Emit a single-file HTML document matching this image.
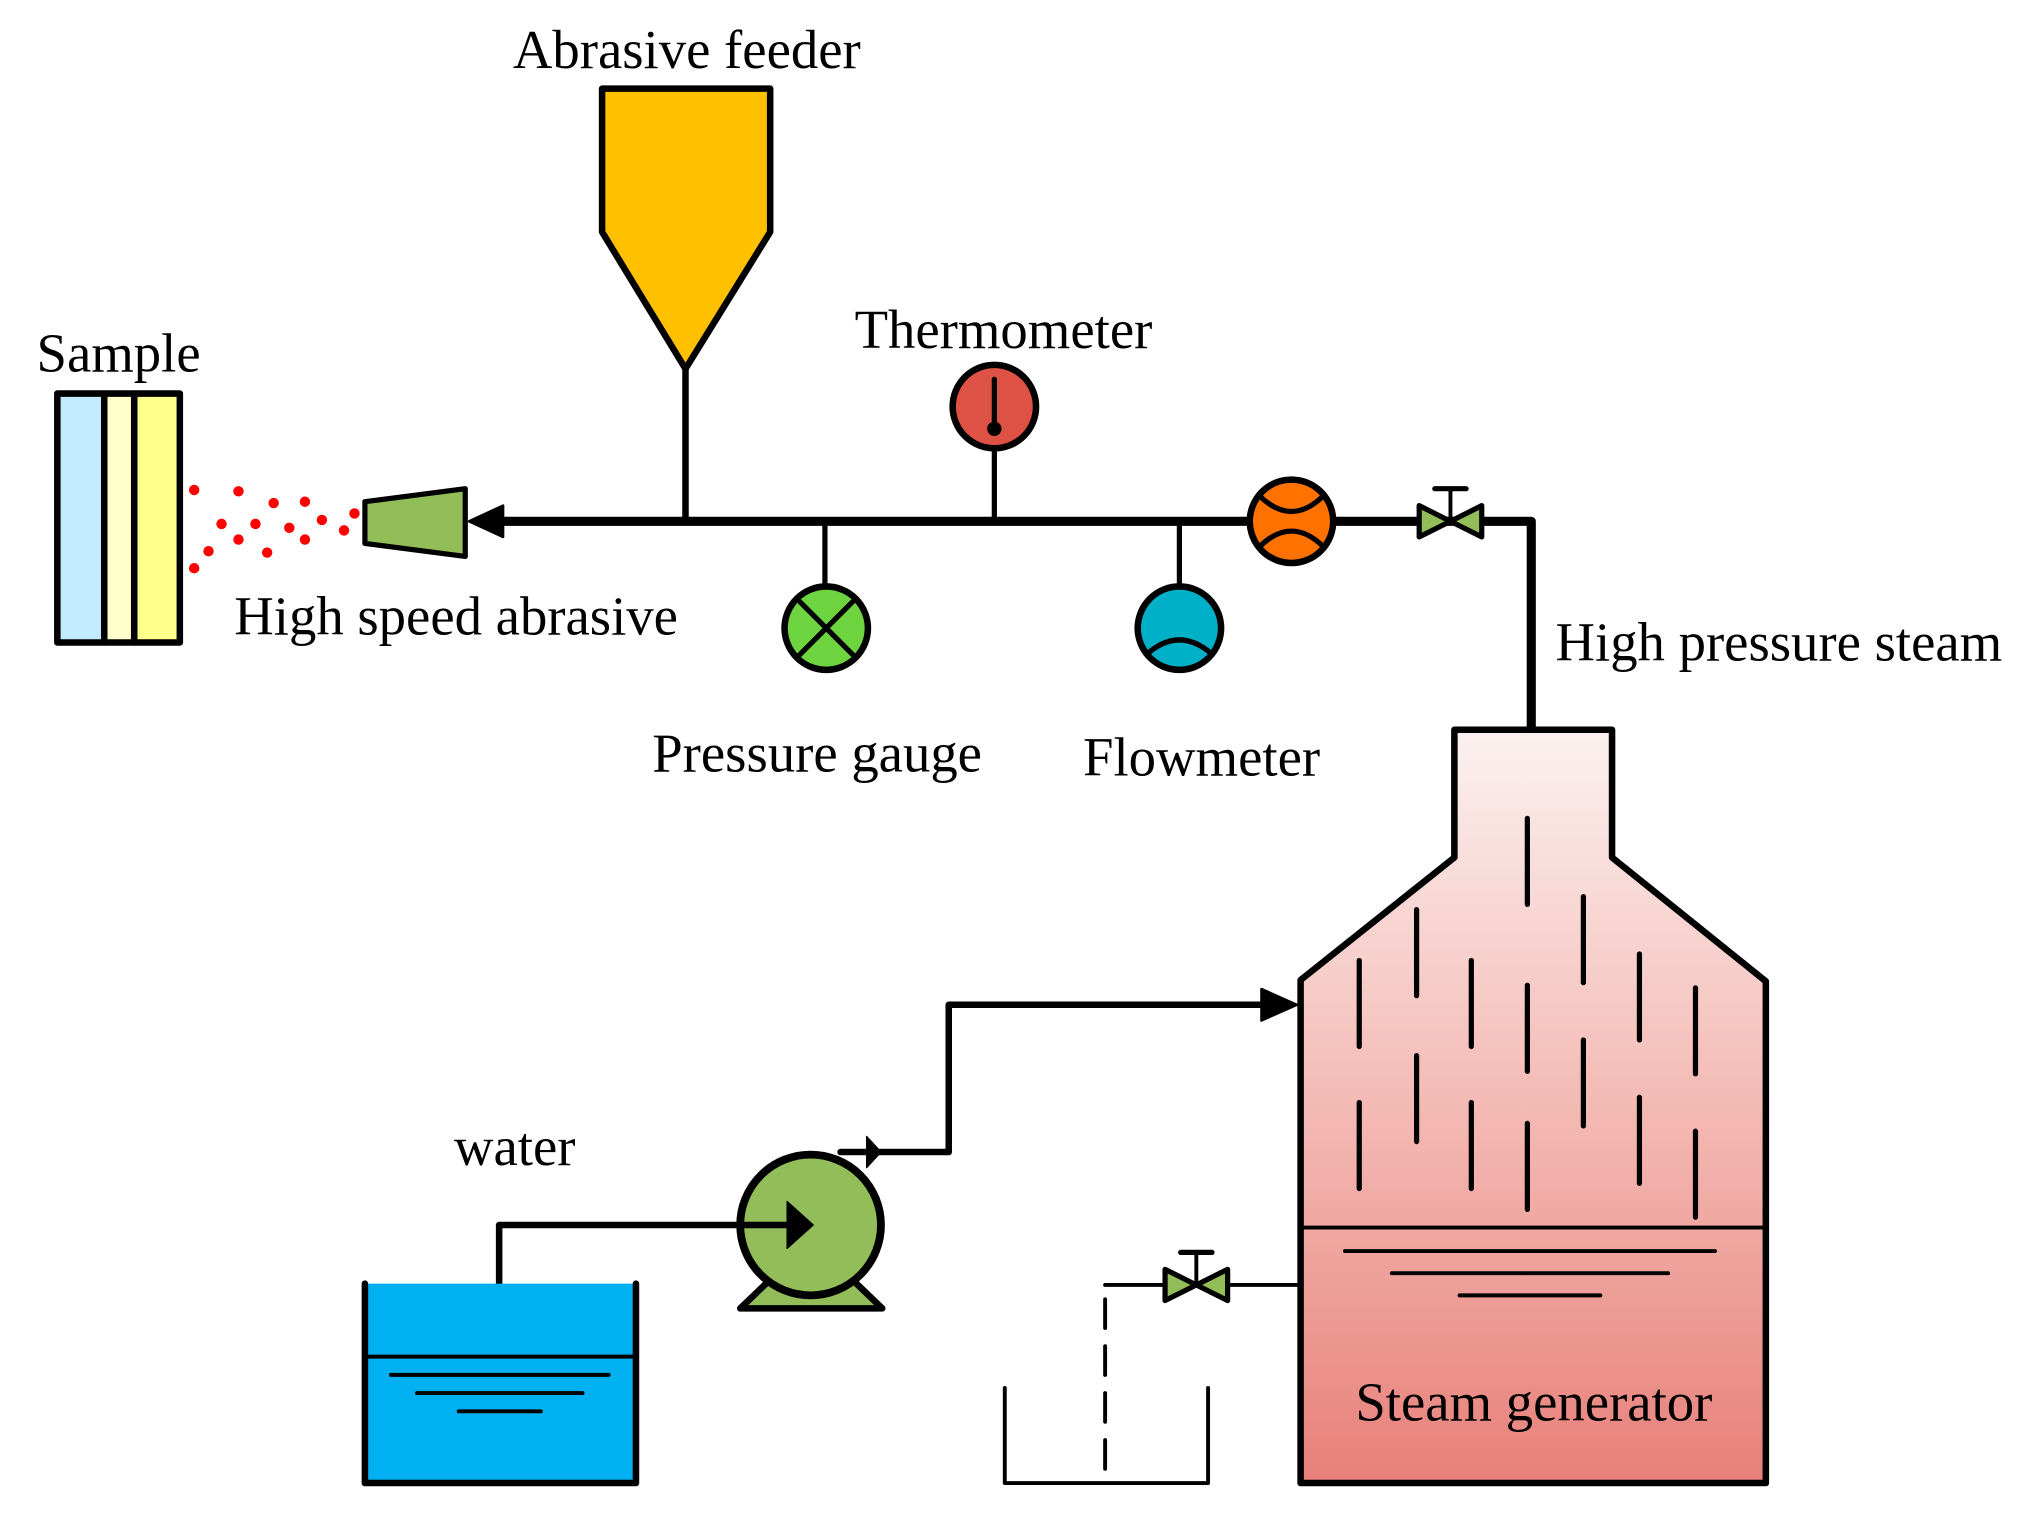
<!DOCTYPE html>
<html><head><style>html,body{margin:0;padding:0;background:#fff}svg{display:block}</style></head>
<body>
<svg width="2033" height="1513" viewBox="0 0 1560 1161" preserveAspectRatio="none" xmlns="http://www.w3.org/2000/svg" font-family="Liberation Serif, serif" font-size="42">
<defs>
<linearGradient id="g" x1="0" y1="0" x2="0" y2="1">
<stop offset="0" stop-color="#FBF1F0"/><stop offset="0.5" stop-color="#F4BAB4"/><stop offset="1" stop-color="#E8807A"/>
</linearGradient>
</defs>
<g stroke="#000" stroke-linejoin="round" stroke-linecap="round">
<polygon points="462,68 591,68 591,178 526,283 462,178" fill="#FFC000" stroke-width="5"/>
<line x1="526" y1="283" x2="526" y2="400" stroke-width="5"/>
<polyline points="385,400 1175,400 1175,560" fill="none" stroke-width="7"/>
<polygon points="360,400 386,388 386,412" fill="#000" stroke-width="2"/>
<polygon points="280,385 357,375 357,427 280,417" fill="#92BD58" stroke-width="4"/>
<rect x="44" y="302" width="36" height="191" fill="#C2ECFD" stroke-width="5"/>
<rect x="80" y="302" width="23" height="191" fill="#FFFFCC" stroke-width="5"/>
<rect x="103" y="302" width="35" height="191" fill="#FFFF8C" stroke-width="5"/>
<line x1="763" y1="344" x2="763" y2="400" stroke-width="4"/>
<circle cx="763" cy="312" r="32" fill="#DE5246" stroke-width="5"/>
<line x1="763" y1="291" x2="763" y2="325" stroke-width="4"/>
<circle cx="763" cy="329" r="5" fill="#000" stroke-width="1"/>
<line x1="633" y1="400" x2="633" y2="450" stroke-width="4"/>
<circle cx="634" cy="482" r="32" fill="#6DD43F" stroke-width="5"/>
<line x1="612" y1="460" x2="656" y2="504" stroke-width="4"/>
<line x1="656" y1="460" x2="612" y2="504" stroke-width="4"/>
<line x1="905" y1="400" x2="905" y2="450" stroke-width="4"/>
<circle cx="905" cy="482" r="32" fill="#00B0C8" stroke-width="5"/>
<path d="M880,502 Q905,480 930,502" fill="none" stroke-width="4"/>
<circle cx="991" cy="400" r="32" fill="#FF7200" stroke-width="5"/>
<path d="M966,380 Q991,405 1016,380" fill="none" stroke-width="4"/>
<path d="M966,420 Q991,395 1016,420" fill="none" stroke-width="4"/>
<polygon points="1089,388 1113,400 1089,412" fill="#92BD58" stroke-width="4"/>
<polygon points="1137,388 1113,400 1137,412" fill="#92BD58" stroke-width="4"/>
<line x1="1113" y1="400" x2="1113" y2="376" stroke-width="3"/>
<line x1="1101" y1="375" x2="1125" y2="375" stroke-width="4"/>
<polygon points="1116,560 1237,560 1237,658 1355,753 1355,1138 998,1138 998,752 1116,658" fill="url(#g)" stroke-width="5"/>
<line x1="998" y1="942" x2="1355" y2="942" stroke-width="3"/>
<line x1="1032" y1="960" x2="1316" y2="960" stroke-width="3"/>
<line x1="1068" y1="977" x2="1280" y2="977" stroke-width="3"/>
<line x1="1120" y1="994" x2="1228" y2="994" stroke-width="3"/>
<g stroke-width="4">
<line x1="1043" y1="737" x2="1043" y2="803"/><line x1="1043" y1="846" x2="1043" y2="912"/>
<line x1="1087" y1="698" x2="1087" y2="764"/><line x1="1087" y1="810" x2="1087" y2="876"/>
<line x1="1129" y1="737" x2="1129" y2="803"/><line x1="1129" y1="846" x2="1129" y2="912"/>
<line x1="1172" y1="628" x2="1172" y2="694"/><line x1="1172" y1="756" x2="1172" y2="822"/><line x1="1172" y1="862" x2="1172" y2="928"/>
<line x1="1215" y1="688" x2="1215" y2="754"/><line x1="1215" y1="798" x2="1215" y2="864"/>
<line x1="1258" y1="732" x2="1258" y2="798"/><line x1="1258" y1="842" x2="1258" y2="908"/>
<line x1="1301" y1="758" x2="1301" y2="824"/><line x1="1301" y1="868" x2="1301" y2="934"/>
</g>
<polyline points="645,884 728,884 728,771 972,771" fill="none" stroke-width="5"/>
<polygon points="995,771 968,759 968,783" fill="#000" stroke-width="2"/>
<polygon points="676,884 665,872 665,896" fill="#000" stroke-width="1"/>
<polygon points="568,1004 593,980 652,980 677,1004" fill="#92BD58" stroke-width="5"/>
<circle cx="622" cy="940" r="54" fill="#92BD58" stroke-width="6"/>
<polyline points="383,985 383,940 605,940" fill="none" stroke-width="5"/>
<polygon points="624,940 604,922 604,958" fill="#000" stroke-width="1"/>
<rect x="280" y="985" width="208" height="153" fill="#00B0F0" stroke="none"/>
<polyline points="280,985 280,1138 488,1138 488,985" fill="none" stroke-width="5"/>
<line x1="280" y1="1041" x2="488" y2="1041" stroke-width="3"/>
<line x1="300" y1="1055" x2="467" y2="1055" stroke-width="3"/>
<line x1="320" y1="1069" x2="447" y2="1069" stroke-width="3"/>
<line x1="352" y1="1083" x2="415" y2="1083" stroke-width="3"/>
<line x1="848" y1="986" x2="998" y2="986" stroke-width="3"/>
<polygon points="894,974 918,986 894,998" fill="#92BD58" stroke-width="4"/>
<polygon points="942,974 918,986 942,998" fill="#92BD58" stroke-width="4"/>
<line x1="918" y1="986" x2="918" y2="962" stroke-width="3"/>
<line x1="906" y1="961" x2="930" y2="961" stroke-width="4"/>
<line x1="848" y1="997" x2="848" y2="1138" stroke-width="3" stroke-dasharray="22,14"/>
<polyline points="771,1065 771,1138 927,1138 927,1065" fill="none" stroke-width="3"/>
</g>
<g fill="#ff0000">
<circle cx="149" cy="376" r="4"/><circle cx="183" cy="377" r="4"/><circle cx="210" cy="386" r="4"/><circle cx="234" cy="385" r="4"/>
<circle cx="170" cy="402" r="4"/><circle cx="196" cy="402" r="4"/><circle cx="222" cy="405" r="4"/><circle cx="247" cy="399" r="4"/>
<circle cx="272" cy="394" r="4"/><circle cx="264" cy="407" r="4"/><circle cx="183" cy="414" r="4"/><circle cx="234" cy="414" r="4"/>
<circle cx="160" cy="423" r="4"/><circle cx="205" cy="424" r="4"/><circle cx="149" cy="436" r="4"/>
</g>
<g fill="#000">
<text x="527" y="52" text-anchor="middle">Abrasive feeder</text>
<text x="91" y="285" text-anchor="middle">Sample</text>
<text x="350" y="487" text-anchor="middle">High speed abrasive</text>
<text x="770" y="267" text-anchor="middle">Thermometer</text>
<text x="627" y="592" text-anchor="middle">Pressure gauge</text>
<text x="922" y="595" text-anchor="middle">Flowmeter</text>
<text x="1365" y="507" text-anchor="middle">High pressure steam</text>
<text x="395" y="894" text-anchor="middle">water</text>
<text x="1177" y="1090" text-anchor="middle">Steam generator</text>
</g>
</svg>
</body></html>
